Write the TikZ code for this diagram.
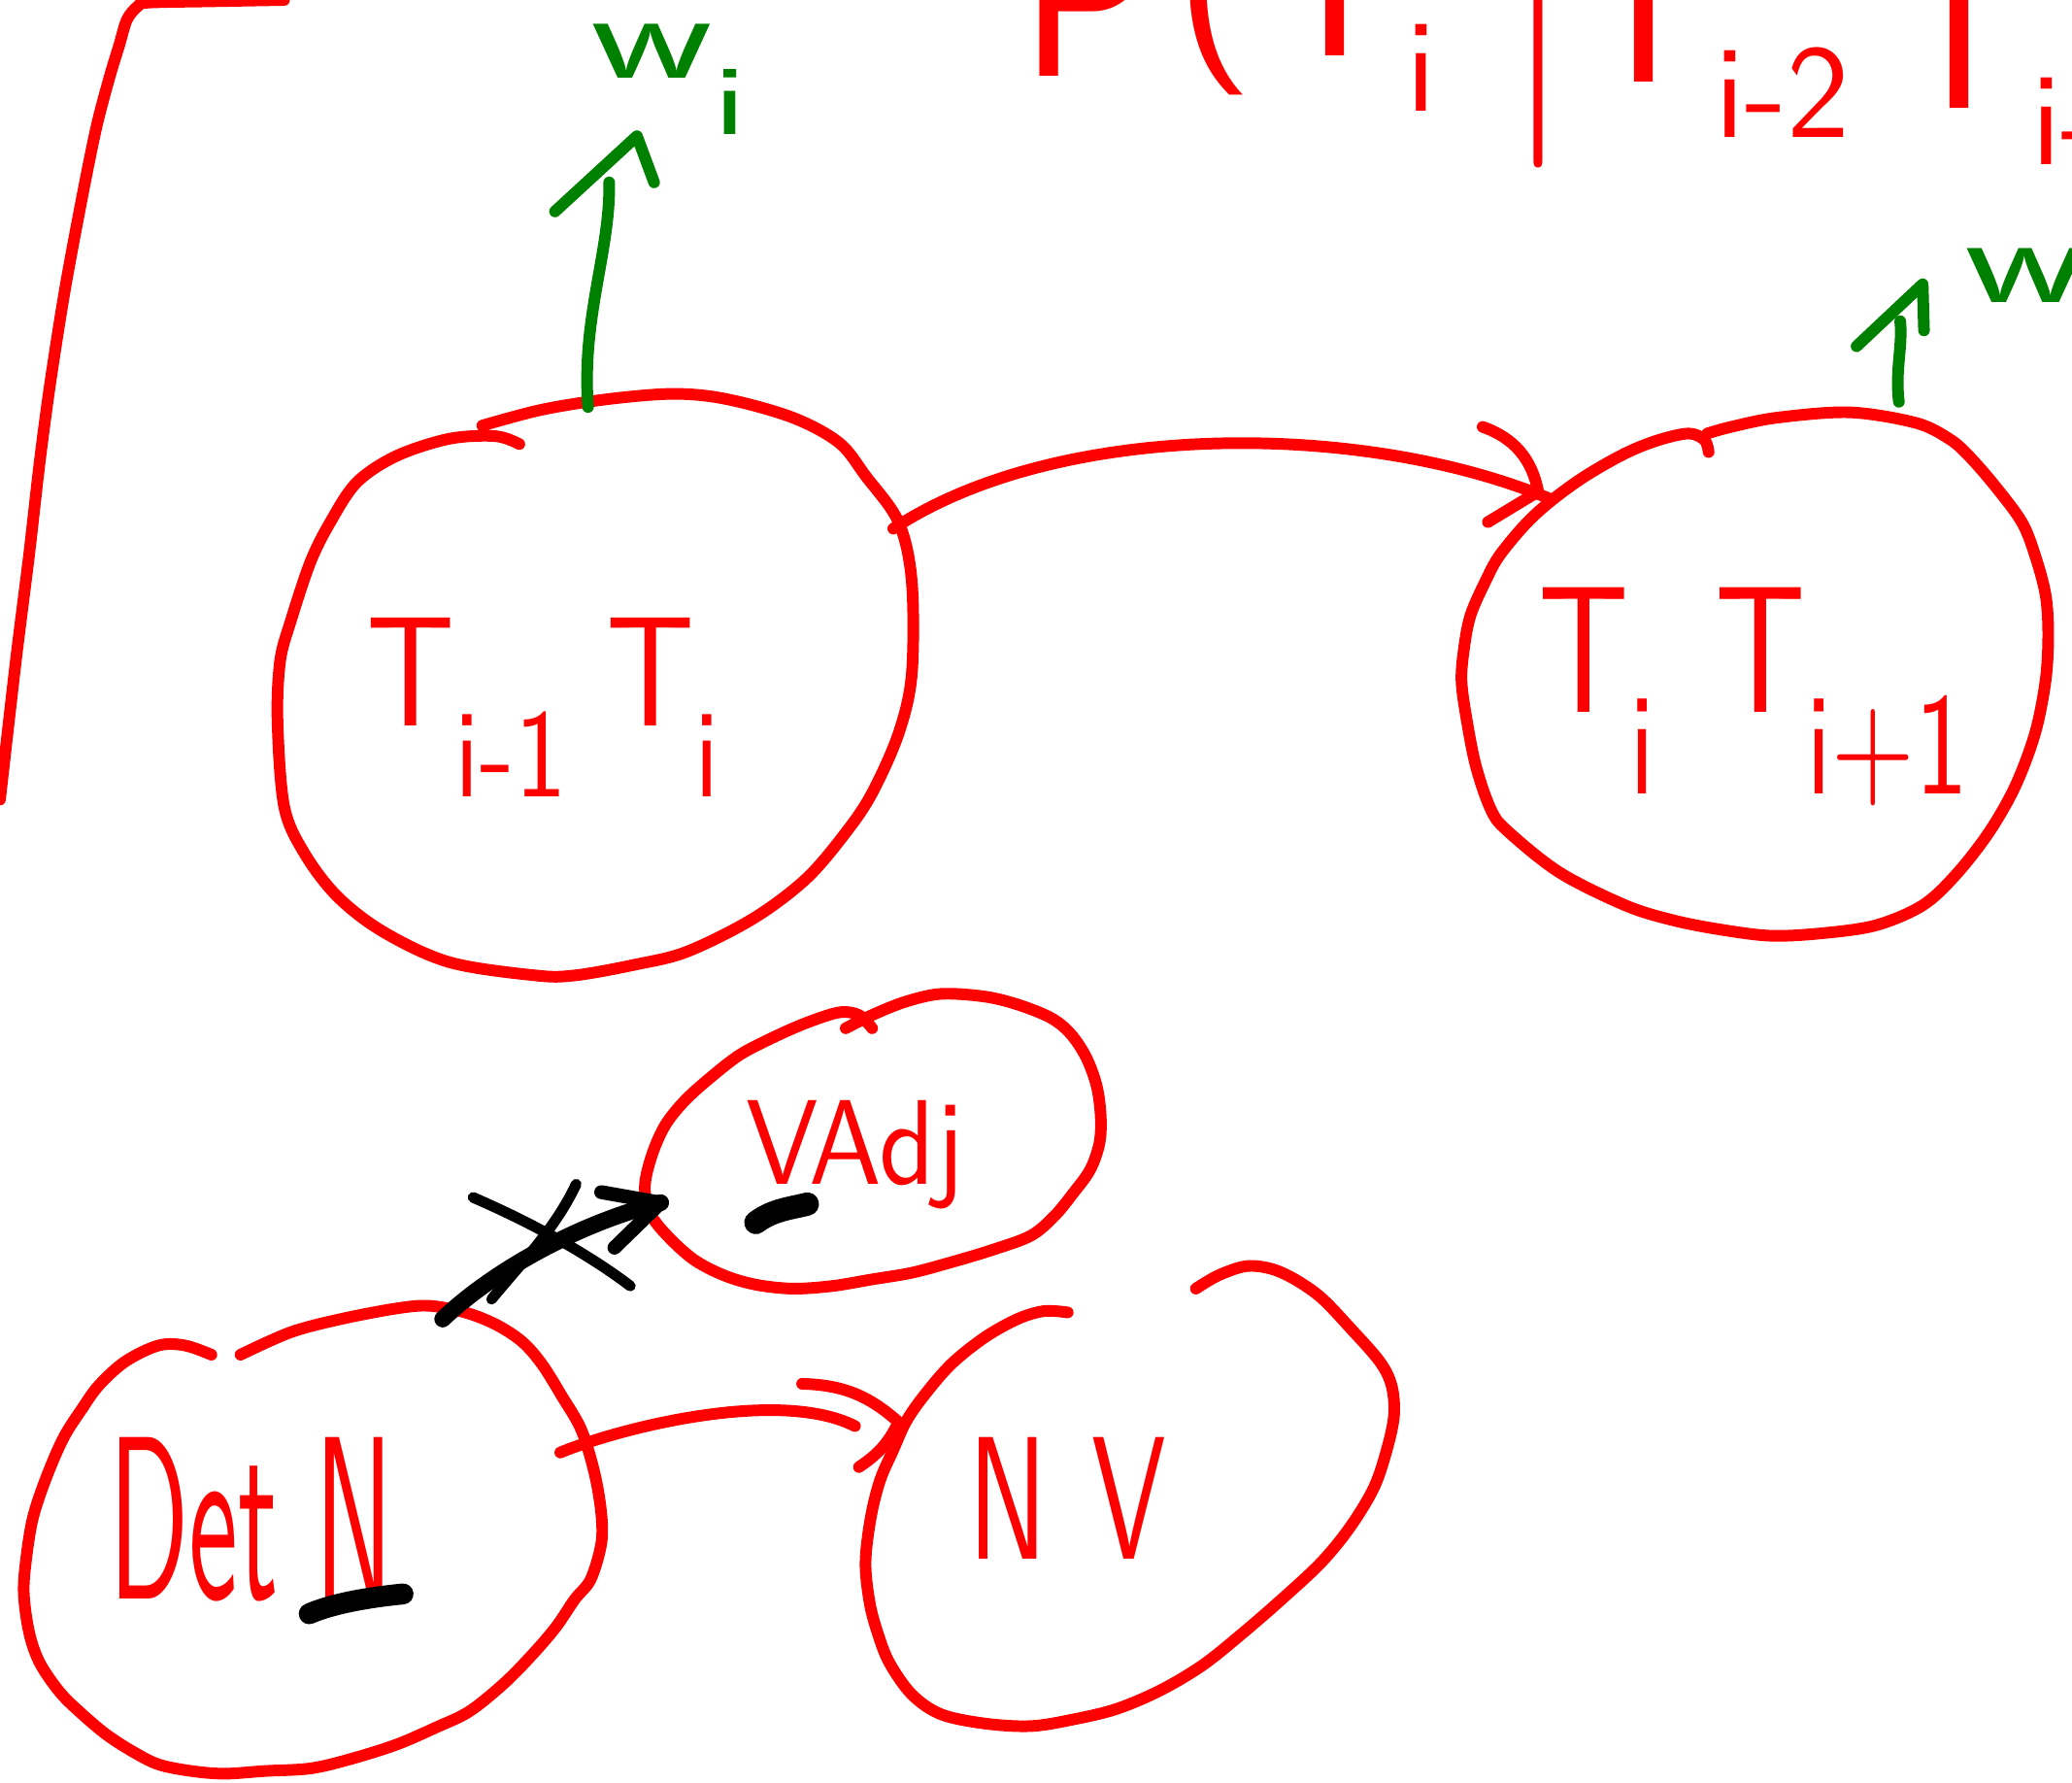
\documentclass[tikz,border=0pt]{standalone}
\usepackage{fontspec}
\usepackage{graphicx}
\usetikzlibrary{calc}
\definecolor{hred}{RGB}{255,0,0}
\definecolor{hgreen}{RGB}{0,128,0}
\newcommand\sbs[1]{\raisebox{-0.45em}{\scalebox{0.8}{#1}}}
\newcommand\tsb[1]{\raisebox{-0.25em}{\scalebox{0.6}{#1}}}
\newcommand\wlab[1]{\scalebox{1.52}[1]{\fontsize{27}{30}\selectfont w\sbs{#1}}}
\begin{document}
\begin{tikzpicture}[x=0.01cm, y=-0.01cm,
  ink/.style={line width=2.5pt, line cap=round, line join=round},
  redink/.style={ink, draw=hred},
  greenink/.style={ink, draw=hgreen},
  blackink/.style={ink, draw=black},
  lbl/.style={inner sep=0pt, outer sep=0pt, font=\sffamily},
  redlbl/.style={lbl, text=hred},
  greenlbl/.style={lbl, text=hgreen},
  toplbl/.style={redlbl, anchor=base west, font=\sffamily\fontsize{48}{56}\selectfont}
]
\useasboundingbox (0,0) rectangle (1568,1349);
\fill[white] (0,0) rectangle (1568,1349);
\clip (0,0) rectangle (1568,1349);

% ---- top-left bracket line
\draw[redink] plot[smooth, tension=0.5] coordinates {(0,605) (12,500) (22,420) (30,350) (38,290) (49,220) (62,150) (73,96) (83,58) (90,35) (96,15) (104,5) (112,2) (160,1) (215,0)};

% ---- cut-off text at the top
\node[toplbl] (top1) at (772,58) {P};
\node[toplbl] (top2) at (888,30) {(};
\node[toplbl] (top3) at (956,42) {T\tsb{i}};
\node[toplbl] (top4) at (1141,85) {\textbar};
\node[toplbl] (top5) at (1190,62) {T\tsb{i-2}};
\node[toplbl] (top6) at (1429,82) {T\tsb{i-1})};

% ---- blob 1
\draw[redink] plot[smooth, tension=0.55] coordinates {(365,322) (410,310) (460,302) (510,298) (550,302) (600,316) (635,335) (655,360) (680,395) (690,440) (690,510) (680,555) (660,600) (640,630) (610,665) (570,695) (520,720) (480,730) (435,738) (405,738) (340,728) (290,705) (255,678) (230,645) (215,610) (210,545) (212,500) (220,470) (235,425) (250,395) (270,365) (300,345) (340,332) (375,330) (393,336)};
\node[redlbl] (lab1) at (411,535) {\resizebox*{2.67cm}{1.35cm}{T\sbs{i-1}\hspace{0.3em}T\sbs{i}}};

% ---- blob 2
\draw[redink] plot[smooth, tension=0.55] coordinates {(1292,328) (1310,323) (1345,316) (1400,312) (1450,320) (1475,332) (1490,345) (1510,368) (1530,395) (1540,420) (1548,450) (1550,480) (1548,515) (1540,555) (1525,595) (1505,630) (1480,662) (1455,685) (1420,700) (1380,706) (1340,708) (1300,703) (1265,696) (1230,685) (1180,660) (1140,628) (1128,612) (1117,580) (1110,545) (1106,515) (1108,490) (1113,465) (1125,438) (1135,420) (1155,396) (1175,378) (1200,360) (1230,343) (1255,333) (1278,328) (1290,333) (1293,342)};
\node[redlbl] (lab2) at (1327,527) {\resizebox*{3.25cm}{1.65cm}{T\sbs{i}\hspace{0.45em}T\sbs{i+1}}};

% ---- blob 3 (VAdj)
\draw[redink] plot[smooth, tension=0.55] coordinates {(640,778) (660,768) (685,758) (712,752) (745,754) (770,760) (795,770) (810,782) (822,800) (830,822) (833,845) (832,865) (825,885) (812,903) (798,920) (780,935) (750,946) (720,955) (690,963) (660,968) (630,973) (600,975) (572,972) (548,965) (525,953) (505,935) (492,918) (488,898) (493,875) (503,852) (518,833) (538,815) (560,798) (585,785) (610,774) (635,766) (650,768) (660,778)};
\node[redlbl] (labV) at (647,874) {\resizebox*{1.65cm}{0.82cm}{VAdj}};
\draw[black, line width=5pt, line cap=round] (572,925) .. controls (585,915) and (600,914) .. (611,911);

% ---- blob 4 (Det N)
\draw[redink] plot[smooth, tension=0.55] coordinates {(182,1025) (220,1008) (258,998) (300,990) (325,988) (352,993) (375,1002) (395,1015) (410,1032) (425,1056) (440,1082) (450,1115) (455,1145) (455,1168) (447,1195) (435,1210) (420,1232) (400,1255) (380,1275) (355,1295) (330,1307) (300,1320) (265,1331) (235,1338) (200,1340) (170,1342) (145,1340) (120,1335) (100,1325) (80,1312) (60,1295) (45,1280) (30,1258) (22,1235) (18,1205) (20,1178) (25,1148) (35,1118) (48,1088) (62,1066) (75,1048) (95,1030) (120,1018) (140,1018) (160,1025)};
\node[redlbl] (labD) at (190,1150) {\resizebox*{2.15cm}{1.24cm}{Det N}};
\draw[black, line width=4.5pt, line cap=round] (234,1221) .. controls (255,1212) and (285,1208) .. (305,1206);

% ---- blob 5 (NV)
\draw[redink] plot[smooth, tension=0.55] coordinates {(808,993) (790,992) (770,998) (745,1012) (720,1032) (700,1055) (686,1075) (676,1097) (666,1120) (659,1148) (655,1182) (658,1212) (664,1235) (673,1258) (690,1282) (712,1297) (745,1304) (780,1306) (812,1301) (845,1293) (878,1279) (910,1260) (940,1236) (970,1210) (1000,1182) (1022,1155) (1040,1125) (1050,1095) (1055,1070) (1053,1048) (1044,1030) (1022,1005) (1000,982) (980,968) (962,960) (943,958) (922,965) (905,975)};
\node[redlbl] (labN) at (808,1134) {\resizebox*{1.50cm}{0.92cm}{N\hspace{0.4em}V}};

% ---- green labels
\node[greenlbl] (labw1) at (506,60) {\wlab{i}};
\node[greenlbl, anchor=north west] (labw2) at (1487,188) {\wlab{i+1}};

% ---- anchor coordinates on the blobs
\coordinate (b1top) at (445,308);
\coordinate (gtipA) at (482,103);
\coordinate (b2top) at (1437,304);
\coordinate (gtipB) at (1455,215);
\coordinate (b1right) at (676,400);
\coordinate (a1end) at (1172,377);
\coordinate (a1tip) at (1164,372);
\coordinate (b4top) at (335,998);
\coordinate (a2tip) at (500,910);
\coordinate (b4right) at (424,1099);
\coordinate (a3end) at (647,1079);
\coordinate (a3tip) at (680,1076);

% ---- green arrows
\draw[greenink] (b1top) .. controls (440,240) and (462,190) .. (461,138);
\draw[greenink] (gtipA) ++(-62,57) -- (gtipA) -- ++(13,35);
\draw[greenink] (b2top) .. controls (1434,280) and (1440,262) .. (1438,243);
\draw[greenink] (gtipB) ++(-50,47) -- (gtipB) -- ++(1,35);

% ---- red arrow blob1 -> blob2
\draw[redink] (b1right) .. controls (800,318) and (1030,318) .. (a1end);
\draw[redink] (a1tip) ++(-42,-49) to[bend left=30] (a1tip) -- ++(-38,23);

% ---- black crossed-out arrow DetN -> VAdj
\draw[blackink, line width=3.6pt] (b4top) .. controls (375,960) and (440,925) .. (a2tip);
\draw[blackink, line width=3pt] (a2tip) ++(-45,-8) -- (a2tip) -- ++(-35,34);
\draw[blackink, line width=2.3pt] (358,906) .. controls (395,922) and (440,945) .. (477,973);
\draw[blackink, line width=2.3pt] (436,896) .. controls (420,930) and (395,955) .. (372,983);

% ---- red arrow DetN -> NV
\draw[redink] (b4right) .. controls (470,1080) and (590,1050) .. (a3end);
\draw[redink] (a3tip) ++(-73,-29) to[bend left=20] (a3tip) to[bend left=15] ++(-30,34);
\end{tikzpicture}
\end{document}
